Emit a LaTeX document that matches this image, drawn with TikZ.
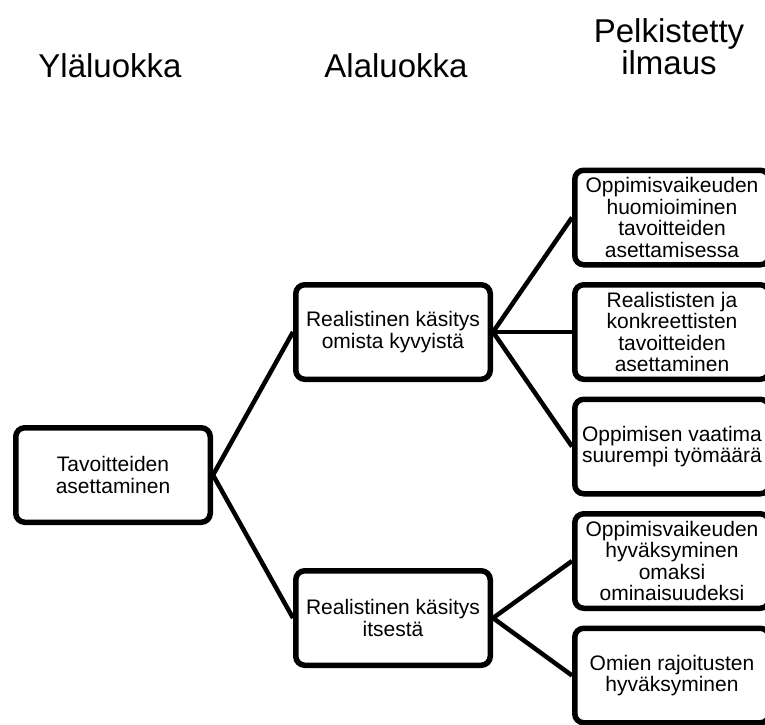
\documentclass[tikz,border=0pt]{standalone}
\usepackage{fontspec}
\setmainfont{Liberation Sans}
\begin{document}
\begin{tikzpicture}[x=1pt,y=-1pt,
  box/.style={draw=black, line width=5.5pt, rounded corners=9pt, fill=white,
    minimum width=194.5pt, minimum height=94.5pt, inner sep=2pt, align=center,
    font=\fontsize{21}{21.4}\selectfont},
  head/.style={align=center, inner sep=0pt, font=\fontsize{33}{32}\selectfont},
  link/.style={line width=4.5pt}]
\useasboundingbox (0,0) rectangle (765,724);
\clip (0,0) rectangle (765,724);

% column headings (base anchor = baseline of the last line)
\node[head, anchor=base] (h1) at (110,77) {Yläluokka};
\node[head, anchor=base] (h2) at (396,77) {Alaluokka};
\node[head, anchor=base] (h3) at (669,74) {Pelkistetty\\ilmaus};

% upper category
\node[box] (root) at (113,475) {Tavoitteiden\\asettaminen};

% subcategories
\node[box] (m1) at (393,332) {Realistinen käsitys\\omista kyvyistä};
\node[box] (m2) at (393,618) {Realistinen käsitys\\itsestä};

% reduced expressions
\node[box] (r1) at (672,217.5) {Oppimisvaikeuden\\huomioiminen\\tavoitteiden\\asettamisessa};
\node[box] (r2) at (672,332) {Realististen ja\\konkreettisten\\tavoitteiden\\asettaminen};
\node[box] (r3) at (672,446.5) {Oppimisen vaatima\\suurempi työmäärä};
\node[box] (r4) at (672,561) {Oppimisvaikeuden\\hyväksyminen\\omaksi\\ominaisuudeksi};
\node[box] (r5) at (672,675.5) {Omien rajoitusten\\hyväksyminen};

% connectors
\draw[link] (root.east) -- (m1.west);
\draw[link] (root.east) -- (m2.west);
\draw[link] (m1.east) -- (r1.west);
\draw[link] (m1.east) -- (r2.west);
\draw[link] (m1.east) -- (r3.west);
\draw[link] (m2.east) -- (r4.west);
\draw[link] (m2.east) -- (r5.west);
\end{tikzpicture}
\end{document}
